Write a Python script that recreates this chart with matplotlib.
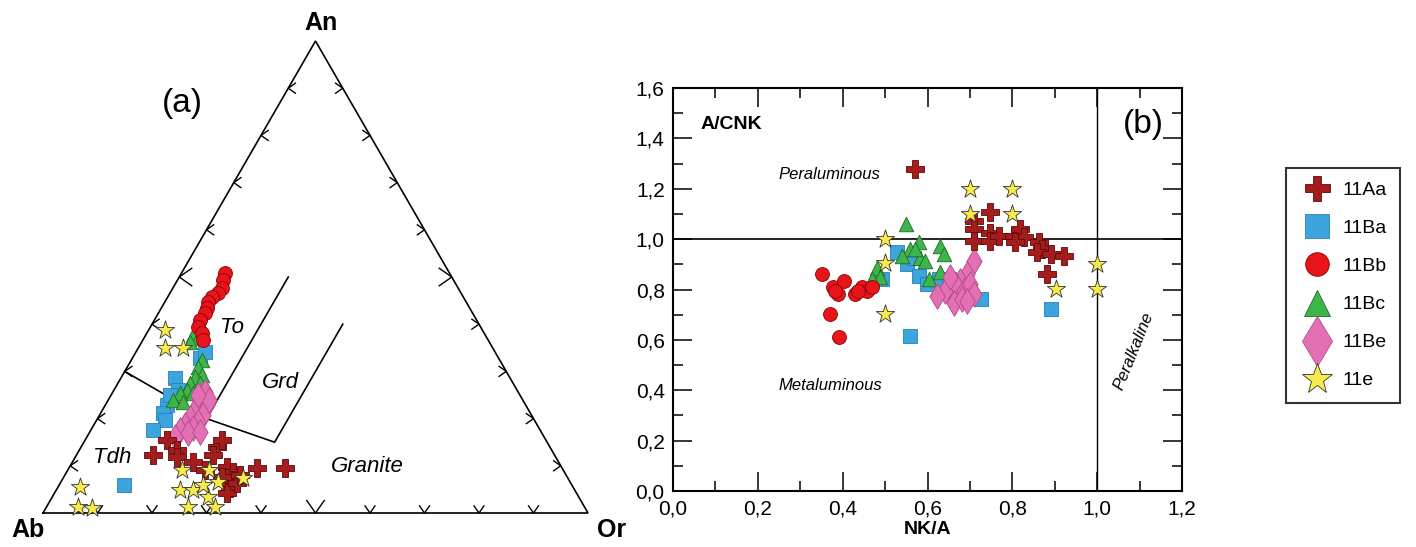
import numpy as np
import matplotlib.pyplot as plt
from matplotlib.lines import Line2D
from matplotlib.ticker import MultipleLocator, FuncFormatter

plt.rcParams['font.family'] = ['Liberation Sans', 'DejaVu Sans']

# ---- panel (a): An-Ab-Or ternary, values in % (Ab = 100 - An - Or) ----
an_11Aa = [12.3, 15.5, 13.3, 11.9, 10.8, 14.0, 15.5, 12.3, 9.7, 8.7, 7.0, 5.3, 4.2, 6.4, 9.5, 9.5, 7.6, 8.1, 9.1]
or_11Aa = [14.0, 15.0, 17.9, 18.7, 22.1, 24.9, 25.1, 25.1, 28.9, 30.5, 31.2, 31.7, 31.7, 32.4, 34.5, 39.6, 29.0, 32.1, 25.1]
an_11Ba = [32.8, 34.1, 28.6, 26.1, 22.9, 21.2, 19.7, 17.6, 25.0, 5.9]
or_11Ba = [12.4, 12.6, 9.9, 11.8, 11.3, 11.4, 12.5, 11.4, 10.8, 12.0]
an_11Bb = [50.8, 49.4, 47.7, 46.6, 45.8, 44.7, 43.4, 42.4, 40.9, 39.4, 38.1, 36.7]
or_11Bb = [8.0, 8.3, 9.0, 8.8, 8.1, 7.9, 8.4, 8.5, 8.4, 8.7, 10.1, 11.0]
an_11Bc = [37.7, 37.1, 36.2, 32.4, 30.9, 29.2, 28.8, 27.5, 27.5, 26.1, 25.4, 25.4, 23.9, 23.5]
or_11Bc = [8.6, 9.9, 8.9, 13.0, 12.9, 14.6, 13.5, 13.2, 15.0, 13.4, 14.8, 12.4, 11.9, 13.9]
an_11Be = [25.6, 23.9, 22.9, 21.8, 20.8, 20.1, 19.3, 18.6, 18.0, 17.6, 16.9, 16.1, 17.2, 23.9, 25.0]
or_11Be = [16.9, 16.8, 18.7, 17.0, 19.0, 16.9, 18.8, 16.8, 18.5, 16.3, 18.1, 16.1, 20.2, 18.6, 15.9]
an_11e = [38.8, 35.0, 35.0, 5.5, 1.3, 1.1, 9.1, 4.9, 4.9, 1.3, 9.1, 6.6, 3.4, 1.3, 7.4, 5.9]
or_11e = [3.0, 4.9, 8.2, 4.0, 5.8, 8.5, 20.9, 22.7, 25.1, 26.0, 26.0, 28.8, 28.6, 31.0, 33.0, 26.4]

# field boundaries (An %, Or %)
tdh_an = [30, 20, 15, 40]
tdh_or = [0, 20, 35, 35]
to_an = [20, 50]
to_or = [20, 20]

# ---- panel (b): A/CNK vs NK/A ----
x_11Aa = [0.571, 0.748, 0.709, 0.709, 0.709, 0.748, 0.748, 0.768, 0.803, 0.819, 0.827, 0.807, 0.862, 0.870, 0.858, 0.890, 0.921, 0.882]
y_11Aa = [1.278, 1.106, 1.073, 1.040, 0.993, 1.026, 0.993, 1.013, 1.013, 1.040, 1.007, 0.987, 0.987, 0.960, 0.947, 0.940, 0.934, 0.861]
x_11Ba = [0.528, 0.552, 0.579, 0.599, 0.626, 0.650, 0.654, 0.725, 0.492, 0.559, 0.890, 0.567]
y_11Ba = [0.947, 0.901, 0.854, 0.821, 0.841, 0.841, 0.795, 0.762, 0.841, 0.616, 0.722, 0.927]
x_11Bb = [0.351, 0.378, 0.402, 0.390, 0.370, 0.392, 0.430, 0.445, 0.457, 0.469, 0.437, 0.382]
y_11Bb = [0.861, 0.808, 0.834, 0.781, 0.702, 0.612, 0.781, 0.808, 0.795, 0.808, 0.795, 0.795]
x_11Bc = [0.550, 0.579, 0.559, 0.540, 0.583, 0.595, 0.630, 0.638, 0.603, 0.630, 0.481, 0.489, 0.469, 0.571]
y_11Bc = [1.060, 0.987, 0.960, 0.934, 0.927, 0.914, 0.974, 0.940, 0.841, 0.868, 0.887, 0.848, 0.841, 0.960]
x_11Be = [0.709, 0.693, 0.677, 0.670, 0.685, 0.701, 0.662, 0.681, 0.642, 0.622, 0.709, 0.654, 0.693]
y_11Be = [0.914, 0.861, 0.834, 0.808, 0.795, 0.821, 0.748, 0.762, 0.795, 0.775, 0.781, 0.848, 0.755]
x_11e = [0.701, 0.799, 0.701, 0.799, 0.500, 0.500, 0.500, 0.902, 1.000, 1.000]
y_11e = [1.199, 1.199, 1.099, 1.099, 1.000, 0.907, 0.702, 0.801, 0.901, 0.801]

labels = ['11Aa', '11Ba', '11Bb', '11Bc', '11Be', '11e']
styles = {
    '11Aa': dict(marker='P', s=150, c='#A51C1C', edgecolors='#5a0a0a'),
    '11Ba': dict(marker='s', s=90, c='#3DA5DE', edgecolors='#2b7fb0'),
    '11Bb': dict(marker='o', s=100, c='#E8141C', edgecolors='#8b0000'),
    '11Bc': dict(marker='^', s=110, c='#3DB54A', edgecolors='#1f6b25'),
    '11Be': dict(marker='d', s=170, c='#E36FB4', edgecolors='#b04a88'),
    '11e': dict(marker='*', s=190, c='#F7EB4A', edgecolors='#333333'),
}
legend_ms = {'11Aa': 18, '11Ba': 17, '11Bb': 17, '11Bc': 19, '11Be': 25, '11e': 23}
draw_order = ['11Ba', '11Bc', '11Bb', '11Be', '11Aa', '11e']

tern = {'11Aa': (an_11Aa, or_11Aa), '11Ba': (an_11Ba, or_11Ba), '11Bb': (an_11Bb, or_11Bb),
        '11Bc': (an_11Bc, or_11Bc), '11Be': (an_11Be, or_11Be), '11e': (an_11e, or_11e)}
xy_b = {'11Aa': (x_11Aa, y_11Aa), '11Ba': (x_11Ba, y_11Ba), '11Bb': (x_11Bb, y_11Bb),
        '11Bc': (x_11Bc, y_11Bc), '11Be': (x_11Be, y_11Be), '11e': (x_11e, y_11e)}

H = np.sqrt(3) / 2


def tern_xy(an, orr):
    an = np.asarray(an, dtype=float) / 100
    orr = np.asarray(orr, dtype=float) / 100
    return orr + an / 2, an * H


def chevron(ax, x, y, ang, size, half=35):
    a1 = np.radians(ang + half)
    a2 = np.radians(ang - half)
    ax.plot([x + size * np.cos(a1), x, x + size * np.cos(a2)],
            [y + size * np.sin(a1), y, y + size * np.sin(a2)],
            color='black', lw=1.0, solid_joinstyle='miter')


W, Hpx = 1416, 547
fig = plt.figure(figsize=(W / 100, Hpx / 100), dpi=100)

# ---------------- panel (a) ----------------
axa = fig.add_axes([0, 0, 640 / W, 1])
axa.set_xlim(-43 / 545, (640 - 43) / 545)
axa.set_ylim((513 - 547) / 545, 513 / 545)
axa.axis('off')

axa.plot([0, 1, 0.5, 0], [0, 0, H, 0], color='black', lw=1.2, solid_joinstyle='miter')
for k in range(1, 10):
    f = k / 10
    size = 0.028 if k == 5 else 0.016
    chevron(axa, f / 2, f * H, 0, size)          # Ab-An side
    chevron(axa, 1 - f / 2, f * H, 180, size)    # Or-An side
    chevron(axa, f, 0, 90, size)                 # Ab-Or side

bx, by = tern_xy(tdh_an, tdh_or)
axa.plot(bx, by, color='black', lw=1.2)
bx, by = tern_xy(to_an, to_or)
axa.plot(bx, by, color='black', lw=1.2)

for lab in draw_order:
    px, py = tern_xy(*tern[lab])
    axa.scatter(px, py, linewidths=0.6, zorder=3, **styles[lab])

axa.text(0.51, 0.90, 'An', fontsize=18, fontweight='bold', ha='center', va='center')
axa.text(-0.028, -0.031, 'Ab', fontsize=18, fontweight='bold', ha='center', va='center')
axa.text(1.044, -0.031, 'Or', fontsize=18, fontweight='bold', ha='center', va='center')
axa.text(0.255, 0.752, '(a)', fontsize=24, ha='center', va='center')
axa.text(0.347, 0.341, 'To', fontsize=16, style='italic', ha='center', va='center')
axa.text(0.435, 0.239, 'Grd', fontsize=16, style='italic', ha='center', va='center')
axa.text(0.127, 0.101, 'Tdh', fontsize=16, style='italic', ha='center', va='center')
axa.text(0.596, 0.086, 'Granite', fontsize=16, style='italic', ha='center', va='center')

# ---------------- panel (b) ----------------
axb = fig.add_axes([673 / W, (Hpx - 491) / Hpx, (1182 - 673) / W, (491 - 88) / Hpx])
axb.set_xlim(0, 1.2)
axb.set_ylim(0, 1.6)
axb.axhline(1.0, color='black', lw=1.2)
axb.axvline(1.0, color='black', lw=1.0)

for lab in draw_order:
    axb.scatter(*xy_b[lab], linewidths=0.6, zorder=3, **styles[lab])

comma = FuncFormatter(lambda v, p: f'{v:.1f}'.replace('.', ','))
axb.xaxis.set_major_locator(MultipleLocator(0.2))
axb.xaxis.set_minor_locator(MultipleLocator(0.1))
axb.yaxis.set_major_locator(MultipleLocator(0.2))
axb.yaxis.set_minor_locator(MultipleLocator(0.1))
axb.xaxis.set_major_formatter(comma)
axb.yaxis.set_major_formatter(comma)
axb.tick_params(which='both', direction='in', top=True, right=True, labelsize=15, width=1.1)
axb.tick_params(which='major', length=14, pad=6)
axb.tick_params(which='minor', length=7)
for sp in axb.spines.values():
    sp.set_linewidth(1.5)

axb.set_xlabel('NK/A', fontsize=14, fontweight='bold', labelpad=2)
axb.text(0.064, 1.454, 'A/CNK', fontsize=14, fontweight='bold', ha='left', va='center')
axb.text(1.11, 1.457, '(b)', fontsize=24, ha='center', va='center')
axb.text(0.249, 1.258, 'Peraluminous', fontsize=12, style='italic', ha='left', va='center')
axb.text(0.249, 0.417, 'Metaluminous', fontsize=12, style='italic', ha='left', va='center')
axb.text(1.087, 0.556, 'Peralkaline', fontsize=12, style='italic', rotation=68,
         ha='center', va='center')

handles = [Line2D([], [], linestyle='none', marker=styles[l]['marker'], markersize=legend_ms[l],
                  markerfacecolor=styles[l]['c'], markeredgecolor=styles[l]['edgecolors'],
                  markeredgewidth=0.6) for l in labels]
leg = fig.legend(handles, labels, loc='upper left', bbox_to_anchor=(1286 / W, 1 - 168 / Hpx),
                 borderaxespad=0, fontsize=14, frameon=True, fancybox=False, edgecolor='black',
                 borderpad=0.7, labelspacing=1.05, handlelength=1.8, handletextpad=0.4)
leg.get_frame().set_linewidth(1.5)

fig.savefig('out.png', dpi=100)
